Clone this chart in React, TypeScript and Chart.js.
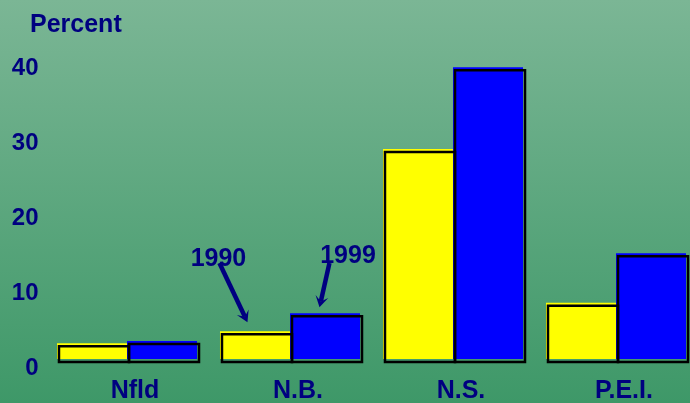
import { useEffect, useRef } from "react";
import { Chart, registerables } from "chart.js";

Chart.register(...registerables);

const categories = ["Nfld", "N.B.", "N.S.", "P.E.I."];
const seriesNames = ["1990", "1999"];
const values1990 = [2.1, 3.7, 28.0, 7.5];
const values1999 = [2.4, 6.1, 38.9, 14.1];
const yTickValues = [0, 10, 20, 30, 40];
const axisTitle = "Percent";
// annotation: label, text position (category index, value), arrow start, arrow tip
const annotLabels = ["1990", "1999"];
const annotText = [
  [0.561, 13.3],
  [1.356, 13.7],
];
const annotStart = [
  [0.567, 12.8],
  [1.242, 12.8],
];
const annotTip = [
  [0.739, 4.9],
  [1.181, 6.9],
];

const NAVY = "#000080";
const FONT = "'Liberation Sans', Arial, sans-serif";

export default function App() {
  const ref = useRef<HTMLCanvasElement | null>(null);

  useEffect(() => {
    const canvas = ref.current;
    if (!canvas) return;

    const bgPlugin = {
      id: "bg",
      beforeDraw(chart: any) {
        const { ctx, width, height } = chart;
        const g = ctx.createLinearGradient(0, 0, 0, height);
        g.addColorStop(0, "rgb(123,182,149)");
        g.addColorStop(1, "rgb(62,152,104)");
        ctx.save();
        ctx.fillStyle = g;
        ctx.fillRect(0, 0, width, height);
        ctx.restore();
      },
    };

    const outlinePlugin = {
      id: "outline",
      afterDatasetsDraw(chart: any) {
        const ctx = chart.ctx;
        ctx.save();
        ctx.strokeStyle = "#000";
        ctx.lineWidth = 2.5;
        chart.data.datasets.forEach((_: any, di: number) => {
          const meta = chart.getDatasetMeta(di);
          meta.data.forEach((el: any) => {
            const left = el.x - el.width / 2;
            ctx.strokeRect(left + 2, el.y + 3, el.width, el.base - el.y);
          });
        });
        ctx.restore();
      },
    };

    const annotPlugin = {
      id: "annot",
      afterDraw(chart: any) {
        const ctx = chart.ctx;
        const xs = chart.scales.x;
        const ys = chart.scales.y;
        ctx.save();
        ctx.fillStyle = NAVY;
        ctx.strokeStyle = NAVY;
        ctx.font = `bold 25px ${FONT}`;
        ctx.textBaseline = "alphabetic";
        ctx.textAlign = "left";
        ctx.fillText(axisTitle, 30, 32);
        ctx.textAlign = "center";
        ctx.textBaseline = "middle";
        annotLabels.forEach((lab, i) => {
          const tx = xs.getPixelForValue(annotText[i][0]);
          const ty = ys.getPixelForValue(annotText[i][1]);
          const sx = xs.getPixelForValue(annotStart[i][0]);
          const sy = ys.getPixelForValue(annotStart[i][1]);
          const ex = xs.getPixelForValue(annotTip[i][0]);
          const ey = ys.getPixelForValue(annotTip[i][1]);
          const ang = Math.atan2(ey - sy, ex - sx);
          const cos = Math.cos(ang);
          const sin = Math.sin(ang);
          const hl = 11;
          const hw = 6.5;
          const notch = 6;
          const bx = ex - hl * cos;
          const by = ey - hl * sin;
          ctx.lineWidth = 4.5;
          ctx.beginPath();
          ctx.moveTo(sx, sy);
          ctx.lineTo(ex - notch * cos, ey - notch * sin);
          ctx.stroke();
          ctx.beginPath();
          ctx.moveTo(ex, ey);
          ctx.lineTo(bx + hw * sin, by - hw * cos);
          ctx.lineTo(ex - notch * cos, ey - notch * sin);
          ctx.lineTo(bx - hw * sin, by + hw * cos);
          ctx.closePath();
          ctx.fill();
          ctx.fillText(lab, tx, ty);
        });
        ctx.restore();
      },
    };

    const chart = new Chart(canvas, {
      type: "bar",
      data: {
        labels: categories,
        datasets: [
          {
            label: seriesNames[0],
            data: values1990,
            backgroundColor: "#FFFF00",
            borderWidth: 0,
            categoryPercentage: 0.859,
            barPercentage: 1,
          },
          {
            label: seriesNames[1],
            data: values1999,
            backgroundColor: "#0000FF",
            borderWidth: 0,
            categoryPercentage: 0.859,
            barPercentage: 1,
          },
        ],
      },
      options: {
        responsive: false,
        animation: false,
        devicePixelRatio: 1,
        layout: { padding: { top: 59, right: 2.5, left: 0, bottom: 0 } },
        plugins: {
          legend: { display: false },
          tooltip: { enabled: false },
          title: { display: false },
        },
        scales: {
          x: {
            grid: { display: false, drawTicks: false },
            border: { display: false },
            ticks: {
              color: NAVY,
              font: { family: FONT, size: 25, weight: "bold" },
              padding: 17,
              labelOffset: 8,
              maxRotation: 0,
              autoSkip: false,
            },
            afterFit: (s: any) => {
              s.height = 44;
            },
          },
          y: {
            min: 0,
            max: 40,
            grid: { display: false, drawTicks: false },
            border: { display: false },
            afterBuildTicks: (s: any) => {
              s.ticks = yTickValues.map((v) => ({ value: v }));
            },
            ticks: {
              color: NAVY,
              font: { family: FONT, size: 24, weight: "bold" },
              padding: 7,
              labelOffset: 9,
            },
            afterFit: (s: any) => {
              s.width = 45.5;
            },
          },
        },
      },
      plugins: [bgPlugin, outlinePlugin, annotPlugin],
    });

    return () => chart.destroy();
  }, []);

  return (
    <div
      style={{
        position: "fixed",
        left: 0,
        top: 0,
        width: 690,
        height: 403,
        overflow: "hidden",
      }}
    >
      <canvas ref={ref} width={700} height={403} style={{ display: "block" }} />
    </div>
  );
}
